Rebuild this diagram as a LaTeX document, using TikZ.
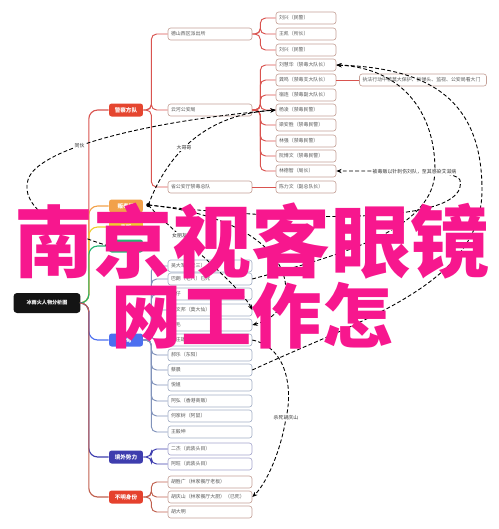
\documentclass[tikz,border=0pt]{standalone}
\usepackage{fontspec}
\setmainfont{Noto Sans CJK SC}
\usepackage{xcolor}
\usepackage{tikz}
\usetikzlibrary{calc,arrows.meta}

\definecolor{polred}{HTML}{E5452F}
\definecolor{polline}{HTML}{D9534F}
\definecolor{polleaf}{HTML}{C4A097}
\definecolor{orng}{HTML}{F2A14A}
\definecolor{yllw}{HTML}{F0CC2E}
\definecolor{grn}{HTML}{22B573}
\definecolor{blu}{HTML}{4C6FF0}
\definecolor{bluline}{HTML}{8193BB}
\definecolor{bluleaf}{HTML}{A3AFC6}
\definecolor{prpl}{HTML}{3E3DAE}
\definecolor{prplleaf}{HTML}{A4A4CC}
\definecolor{botred}{HTML}{E5412D}
\definecolor{botline}{HTML}{C0604E}
\definecolor{titlepink}{HTML}{F7178E}

\tikzset{
  leaf/.style={draw=#1, fill=white, rounded corners=1.5pt, line width=0.35pt,
    text width=1.56cm, minimum height=0.24cm, inner xsep=0.06cm, inner ysep=0pt,
    align=left, font=\fontsize{2.8}{3}\selectfont, text=black!65},
  shortleaf/.style={leaf=#1, text width=1.08cm},
  branch/.style={fill=#1, rounded corners=1.5pt, text=white, minimum width=0.68cm,
    minimum height=0.26cm, inner sep=0pt, font=\fontsize{3.2}{3.5}\selectfont\bfseries},
  link/.style={draw=#1, line width=0.55pt, rounded corners=3pt},
  rel/.style={draw=black, line width=0.5pt, dash pattern=on 2.2pt off 1.3pt,
    -{Stealth[length=3pt,width=2.4pt]}},
  rlab/.style={fill=white, inner sep=0.4pt, font=\fontsize{2.8}{3}\selectfont, text=black!80},
  pinktext/.style={text=titlepink, inner sep=0pt, font=#1\bfseries}
}

\begin{document}
\begin{tikzpicture}[x=0.02cm, y=-0.02cm]
\useasboundingbox (0,0) rectangle (499,529);

% root and main branches
\node[fill=black!92, rounded corners=2pt, text=white, minimum width=1.34cm, minimum height=0.4cm,
  inner sep=0pt, font=\fontsize{2.9}{3}\selectfont\bfseries] (root) at (47,303) {冰雨火人物分析图};
\node[branch=polred] (police) at (126,110) {警察方队};
\node[branch=orng] (orange) at (126,206) {贩毒链};
\node[branch=yllw] (yellow) at (126,227) {毒贩};
\node[branch=grn] (green) at (126,246) {卧底};
\node[branch=blu] (burma) at (126,340) {缅甸};
\node[branch=prpl] (abroad) at (126,457) {境外势力};
\node[branch=botred] (unknown) at (126,497) {不明身份};

\foreach \b/\c in {police/polline, orange/orng, yellow/yllw, green/grn, burma/blu, abroad/prpl, unknown/botline}
  \draw[link=\c, line width=0.65pt, rounded corners=5pt] (root.east) -- ++(8,0) |- (\b.west);

% police side
\node[leaf=polleaf] (deshan) at (210,34) {德山西区派出所};
\node[leaf=polleaf] (yunhe) at (210,110) {云河公安局};
\node[leaf=polleaf] (sheng) at (210,187) {省公安厅禁毒总队};
\foreach \n in {deshan, yunhe, sheng}
  \draw[link=polline] (police.east) -- ++(8,0) |- (\n.west);

\foreach \n/\y/\t in {d1/18/刘兴（民警）, d2/34/王凯（所长）, d3/50/刘兴（民警）}{
  \node[shortleaf=polleaf] (\n) at (306,\y) {\t};
  \draw[link=polline] (deshan.east) -- ++(8,0) |- (\n.west);
}
\foreach \n/\y/\t in {y1/65/刘慧华（禁毒大队长）, y2/80/龚鸣（禁毒支大队长）, y3/95/宿连（禁毒副大队长）,
    y4/110/杨凌（禁毒民警）, y5/125/梁安胜（禁毒民警）, y6/141/林强（禁毒民警）,
    y7/156/阮博文（禁毒民警）, y8/171/林德智（局长）}{
  \node[shortleaf=polleaf] (\n) at (306,\y) {\t};
  \draw[link=polline] (yunhe.east) -- ++(8,0) |- (\n.west);
}
\node[shortleaf=polleaf] (s1) at (306,187) {陈力文（副总队长）};
\draw[link=polline] (sheng.east) -- (s1.west);
\node[leaf=polleaf, text width=2.42cm] (zf) at (423,80) {执法行动中被莫大保护、拆弹头、监视、公安局看大门};
\draw[link=polline] (y2.east) -- (zf.west);

% burma side
\foreach \n/\y/\t in {b1/266/吴大军（老三）, b2/279/巴朗（老八）已死, b3/294/七仔, b4/310/莫文邦（莫大仙）,
    b5/325/七毛, b6/340/李庄雄, b7/355/郝乐（东阳）, b8/370/蔡晨, b9/385/悦姐,
    b10/401/阿弘（香港商贩）, b11/416/何家树（阿鼠）, b12/432/王毅坤}{
  \node[leaf=bluleaf] (\n) at (210,\y) {\t};
  \draw[link=bluline] (burma.east) -- ++(8,0) |- (\n.west);
}

% abroad and unknown
\foreach \n/\y/\t in {p1/449/二杰（武装头目）, p2/464/阿旺（武装头目）}{
  \node[leaf=prplleaf] (\n) at (210,\y) {\t};
  \draw[link=prpl] (abroad.east) -- ++(8,0) |- (\n.west);
}
\foreach \n/\y/\t in {r1/482/胡胜广（林家餐厅老板）, r2/497/胡庆山（林家餐厅大厨）（已死）, r3/512/胡大明}{
  \node[leaf=polleaf] (\n) at (210,\y) {\t};
  \draw[link=botline] (unknown.east) -- ++(8,0) |- (\n.west);
}

% relations
\coordinate (hub) at ($(orange.east)+(5,-1)$);
\fill (hub) circle (1.2pt);
\draw[rel] (hub) .. controls (165,160) and (200,115) .. node[rlab,pos=0.45]{大哥哥} (y4.west);
\draw[rel] (green.west) .. controls (55,230) and (20,205) .. (28,180)
  .. controls (36,150) and (140,122) .. node[rlab,pos=0.4]{同伙} (y4.west);
\draw[rel] (hub) .. controls (165,225) and (240,285) .. node[rlab,pos=0.33]{女朋友} (b4.east);
\draw[rel] (hub) .. controls (300,220) and (310,310) .. node[rlab,pos=0.8]{杀仔} (b5.east);
\draw[rel] (b2.east) .. controls (340,255) and (435,230) .. node[rlab,pos=0.6]{诱骗} (435,170)
  .. controls (435,110) and (400,68) .. (y1.east);
\draw[rel] (b8.east) .. controls (360,320) and (482,285) .. (482,190)
  .. controls (482,100) and (430,68) .. (y1.east);
\draw[rel] (hub) .. controls (300,222) and (470,225) .. (460,180)
  .. controls (455,171) and (420,171) .. node[rlab,pos=0.6]{被毒贩以针刺伤刘队，至其感染艾滋病} (y8.east);
\draw[rel] (b6.east) .. controls (290,348) and (292,395) .. (286,418) node[rlab]{杀死胡庆山}
  .. controls (280,455) and (265,485) .. (r2.east);

% overlay title
\node[pinktext=\fontsize{45}{45}\selectfont] (title1) at (252,241) {南京视客眼镜};
\node[pinktext=\fontsize{40}{40}\selectfont] (title2) at (252,316) {网工作怎};
\end{tikzpicture}
\end{document}
